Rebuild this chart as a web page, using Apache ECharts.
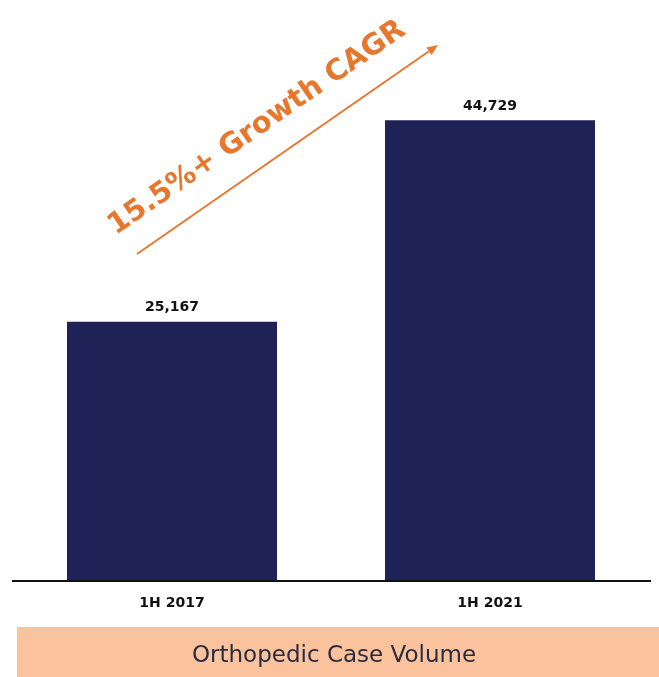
<!DOCTYPE html>
<html>
<head>
<meta charset="utf-8">
<style>
  html, body { margin: 0; padding: 0; background: #ffffff; }
  #chart { width: 659px; height: 677px; }
</style>
<script src="https://cdn.jsdelivr.net/npm/echarts@6/dist/echarts.min.js"></script>
</head>
<body>
<div id="chart"></div>
<script>
// Half-year orthopedic case volumes
const categories = ['1H 2017', '1H 2021'];
const caseVolume = [25167, 44729];
const growthLabel = '15.5%+ Growth CAGR';
const footerLabel = 'Orthopedic Case Volume';

const NAVY = '#1e2256';
const ORANGE = '#e8772e';
const PEACH = '#fbc39d';
const FONT = '"DejaVu Sans", sans-serif';

const chart = echarts.init(document.getElementById('chart'));

// Arrow direction for the growth annotation
const ax1 = 137, ay1 = 254, ax2 = 438, ay2 = 45;
const ang = Math.atan2(ay1 - ay2, ax2 - ax1);
const headLen = 11, headHalf = 4.5;
const ux = Math.cos(ang), uy = -Math.sin(ang);
const bx = ax2 - ux * headLen, by = ay2 - uy * headLen;
const px = -uy, py = ux;

chart.setOption({
  animation: false,
  grid: { left: 13, right: 10, top: 66, bottom: 96 },
  xAxis: {
    type: 'category',
    data: categories,
    axisTick: { show: false },
    axisLine: { show: false },
    axisLabel: {
      color: '#111',
      fontFamily: FONT,
      fontWeight: 'bold',
      fontSize: 14,
      margin: 15
    }
  },
  yAxis: {
    type: 'value',
    min: 0,
    max: 50000,
    show: false,
    splitLine: { show: false }
  },
  series: [{
    type: 'bar',
    data: caseVolume,
    barWidth: 210,
    itemStyle: { color: NAVY },
    label: {
      show: true,
      position: 'top',
      distance: 7,
      color: '#111',
      fontFamily: FONT,
      fontWeight: 'bold',
      fontSize: 14,
      formatter: p => p.value.toLocaleString('en-US')
    }
  }],
  graphic: [
    // baseline under the bars
    { type: 'line', shape: { x1: 12, y1: 581, x2: 651, y2: 581 },
      style: { stroke: '#111', lineWidth: 2 }, z: 10 },
    // growth arrow
    { type: 'line', shape: { x1: ax1, y1: ay1, x2: bx, y2: by },
      style: { stroke: ORANGE, lineWidth: 2 } },
    { type: 'polygon',
      shape: { points: [[ax2, ay2], [bx + px * headHalf, by + py * headHalf], [bx - px * headHalf, by - py * headHalf]] },
      style: { fill: ORANGE } },
    // growth annotation text
    { type: 'text', x: 257, y: 128, rotation: ang,
      style: { text: growthLabel, fill: ORANGE, fontFamily: FONT, fontWeight: 'bold',
               fontSize: 29, align: 'center', verticalAlign: 'middle' } },
    // footer band
    { type: 'rect', shape: { x: 17, y: 627, width: 642, height: 50 },
      style: { fill: PEACH } },
    { type: 'text', x: 334, y: 656,
      style: { text: footerLabel, fill: '#2b2b40', fontFamily: FONT, fontWeight: 'normal',
               fontSize: 23, align: 'center', verticalAlign: 'middle' } }
  ]
});
</script>
</body>
</html>
